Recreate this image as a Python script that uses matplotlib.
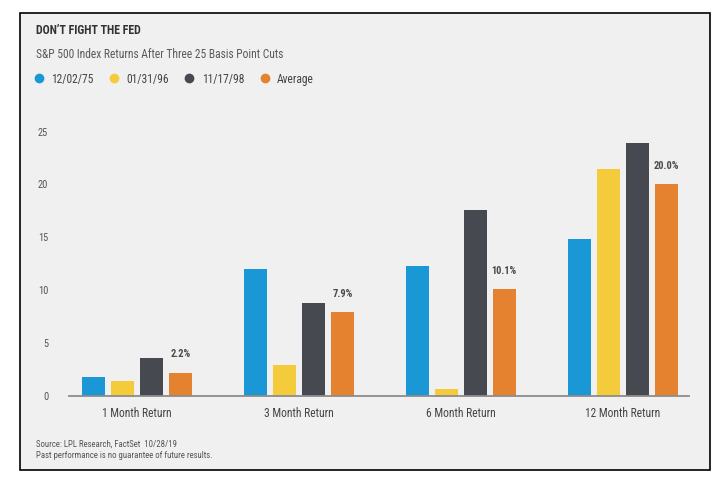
import matplotlib
matplotlib.use('Agg')
import matplotlib.pyplot as plt
from matplotlib.lines import Line2D
from matplotlib.patches import Rectangle
from matplotlib import font_manager
import numpy as np

categories = ['1 Month Return', '3 Month Return', '6 Month Return', '12 Month Return']
series_names = ['12/02/75', '01/31/96', '11/17/98', 'Average']
ret_1975 = [1.8, 12.0, 12.3, 14.8]
ret_1996 = [1.4, 2.9, 0.7, 21.5]
ret_1998 = [3.6, 8.8, 17.6, 23.9]
ret_avg = [2.2, 7.9, 10.1, 20.0]
avg_labels = ['2.2%', '7.9%', '10.1%', '20.0%']
y_ticks = [0, 5, 10, 15, 20, 25]

colors = ['#1a98d6', '#f4cb3a', '#46494f', '#e4822f']

# pick a narrow face if one is installed
names = {f.name for f in font_manager.fontManager.ttflist}
narrow = [n for n in ['Liberation Sans Narrow', 'Roboto Condensed', 'Open Sans Condensed',
                      'DejaVu Sans Condensed'] if n in names]
plt.rcParams['font.family'] = narrow + ['DejaVu Sans']
plt.rcParams['font.stretch'] = 'condensed'

W, H = 721, 478
fig = plt.figure(figsize=(W / 100, H / 100), dpi=100, facecolor='white')

# framed light-gray panel
fig.patches.append(Rectangle((20 / W, 1 - 470 / H), 690 / W, 457 / H,
                             transform=fig.transFigure, facecolor='#f0f0f0',
                             edgecolor='black', lw=1.2, zorder=-5))

ax = fig.add_axes([69 / W, (H - 396) / H, 620 / W, 275 / H])
ax.set_facecolor('none')

x = np.arange(len(categories))
width = 0.143
step = 0.179
all_series = [ret_1975, ret_1996, ret_1998, ret_avg]
for i, (vals, c) in enumerate(zip(all_series, colors)):
    ax.bar(x + (i - 1.5) * step, vals, width, color=c, zorder=2)

# value labels above the average bars
for xi, v, lab in zip(x, ret_avg, avg_labels):
    ax.text(xi + 1.5 * step, v + 1.75, lab, ha='center', va='center',
            fontsize=7.5, color='#4a4a4a', fontweight='bold')

ax.set_xlim(-0.42, 3.41)
ax.set_ylim(0, 26)
ax.set_yticks(y_ticks)
ax.set_xticks(x)
ax.set_xticklabels(categories)
ax.tick_params(axis='y', length=0, pad=15, labelsize=7.5, labelcolor='#555555')
ax.tick_params(axis='x', length=0, pad=8, labelsize=8.3, labelcolor='#444444')
for side in ['top', 'right', 'left']:
    ax.spines[side].set_visible(False)
ax.spines['bottom'].set_color('#8c8c8c')
ax.spines['bottom'].set_linewidth(1.3)

# headings
fig.text(36 / W, 1 - 30 / H, 'DON\u2019T FIGHT THE FED', fontsize=8.6,
         fontweight='bold', color='#333333', va='center')
fig.text(36 / W, 1 - 55 / H, 'S&P 500 Index Returns After Three 25 Basis Point Cuts',
         fontsize=8.3, color='#5a5a5a', va='center')

handles = [Line2D([], [], marker='o', linestyle='none', markersize=6,
                  markerfacecolor=c, markeredgecolor=c) for c in colors]
fig.legend(handles, series_names, loc='center left',
           bbox_to_anchor=(33 / W, 1 - 79 / H), ncol=4, frameon=False,
           fontsize=8.3, handletextpad=0.55, columnspacing=1.3,
           handlelength=1, borderpad=0, borderaxespad=0, labelcolor='#444444')

# footer
fig.text(36 / W, 1 - 444 / H, 'Source: LPL Research, FactSet  10/28/19',
         fontsize=6.3, color='#555555', va='center')
fig.text(36 / W, 1 - 455 / H, 'Past performance is no guarantee of future results.',
         fontsize=6.3, color='#555555', va='center')

fig.savefig('out.png', dpi=100, facecolor=fig.get_facecolor())
